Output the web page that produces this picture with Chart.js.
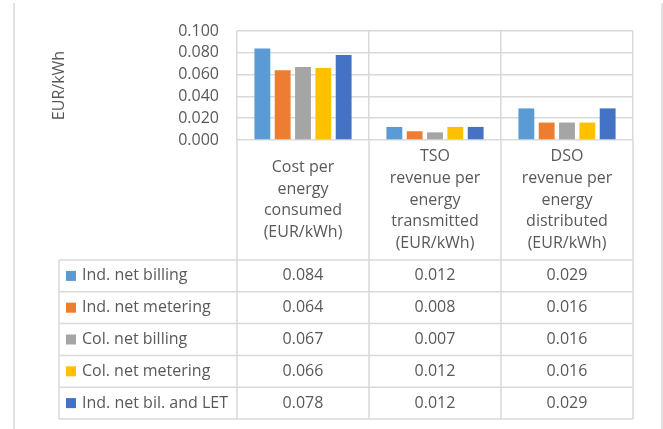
<!DOCTYPE html>
<html><head><meta charset="utf-8">
<script src="https://cdn.jsdelivr.net/npm/chart.js@4.4.1/dist/chart.umd.min.js"></script>
<style>html,body{margin:0;padding:0;background:#fff;}#wrap{position:relative;width:663px;height:429px;}</style>
</head><body><div id="wrap"><canvas id="c" width="663" height="429"></canvas></div>
<script>
// ---- data ----
const categories = [
  ["Cost per", "energy", "consumed", "(EUR/kWh)"],
  ["TSO", "revenue per", "energy", "transmitted", "(EUR/kWh)"],
  ["DSO", "revenue per", "energy", "distributed", "(EUR/kWh)"]
];
const seriesNames = ["Ind. net billing", "Ind. net metering", "Col. net billing", "Col. net metering", "Ind. net bil. and LET"];
const indNetBilling   = [0.084, 0.012, 0.029];
const indNetMetering  = [0.064, 0.008, 0.016];
const colNetBilling   = [0.067, 0.007, 0.016];
const colNetMetering  = [0.066, 0.012, 0.016];
const indNetBilLET    = [0.078, 0.012, 0.029];
const seriesValues = [indNetBilling, indNetMetering, colNetBilling, colNetMetering, indNetBilLET];
const seriesColors = ["#5B9BD5", "#ED7D31", "#A5A5A5", "#FFC000", "#4472C4"];
const yTickValues = [0, 0.02, 0.04, 0.06, 0.08, 0.1];
const yTitle = "EUR/kWh";

// ---- style ----
const FONT = "'Open Sans', sans-serif";
const TXT = "#595959";
const GRID = "#D9D9D9";

const tablePlugin = {
  id: 'dataTable',
  afterDraw(chart) {
    const ctx = chart.ctx;
    const xs = chart.scales.x;
    const area = chart.chartArea;
    const n = categories.length;
    const bounds = [area.left];
    for (let i = 0; i < n - 1; i++) bounds.push((xs.getPixelForValue(i) + xs.getPixelForValue(i + 1)) / 2);
    bounds.push(area.right);
    const tableLeft = 59, headerBottom = 260, rowH = 31.8;
    const tableBottom = headerBottom + rowH * seriesNames.length;
    ctx.save();
    ctx.strokeStyle = GRID;
    ctx.lineWidth = 1.5;
    // frame
    ctx.beginPath();
    ctx.moveTo(14, 3); ctx.lineTo(14, 429);
    ctx.moveTo(662, 3); ctx.lineTo(662, 429);
    // header verticals
    bounds.forEach(b => { ctx.moveTo(b, area.bottom); ctx.lineTo(b, tableBottom); });
    ctx.moveTo(tableLeft, headerBottom); ctx.lineTo(tableLeft, tableBottom);
    for (let r = 0; r <= seriesNames.length; r++) {
      const y = headerBottom + r * rowH;
      ctx.moveTo(tableLeft, y); ctx.lineTo(area.right, y);
    }
    ctx.stroke();
    // header text (vertically centred in header band)
    ctx.fillStyle = TXT;
    ctx.font = "16px " + FONT;
    ctx.textAlign = 'center';
    ctx.textBaseline = 'middle';
    const headerMid = 200, lineH = 21.7;
    categories.forEach((lines, i) => {
      const cx = xs.getPixelForValue(i);
      const y0 = headerMid - (lines.length - 1) * lineH / 2;
      lines.forEach((l, k) => ctx.fillText(l, cx, y0 + k * lineH));
    });
    // rows
    seriesNames.forEach((name, r) => {
      const cy = headerBottom + r * rowH + rowH / 2;
      ctx.fillStyle = seriesColors[r];
      ctx.fillRect(66, cy - 5, 10, 10);
      ctx.fillStyle = TXT;
      ctx.textAlign = 'left';
      ctx.fillText(name, 82, cy);
      ctx.textAlign = 'center';
      seriesValues[r].forEach((v, i) => {
        ctx.fillText(v.toFixed(3), xs.getPixelForValue(i), cy);
      });
    });
    ctx.restore();
  }
};

new Chart(document.getElementById('c'), {
  type: 'bar',
  data: {
    labels: categories.map(c => c.join(' ')),
    datasets: seriesNames.map((name, i) => ({
      label: name,
      data: seriesValues[i],
      backgroundColor: seriesColors[i],
      borderWidth: 0,
      categoryPercentage: 0.77,
      barPercentage: 0.78
    }))
  },
  options: {
    responsive: false,
    animation: false,
    devicePixelRatio: 1,
    layout: { padding: { left: 50, right: 30, top: 31, bottom: 289 } },
    plugins: { legend: { display: false }, tooltip: { enabled: false } },
    scales: {
      x: {
        ticks: { display: false },
        grid: { color: GRID, lineWidth: 1.5, drawTicks: false, offset: true },
        border: { display: false }
      },
      y: {
        min: 0, max: 0.1,
        afterBuildTicks(scale) { scale.ticks = yTickValues.map(v => ({ value: v })); },
        afterFit(scale) { scale.width = 187; },
        ticks: {
          autoSkip: false,
          padding: 18,
          color: TXT,
          font: { family: FONT, size: 16 },
          callback: v => Number(v).toFixed(3)
        },
        grid: { color: GRID, lineWidth: 1.5, drawTicks: false },
        border: { display: false },
        title: { display: true, text: yTitle, color: TXT, font: { family: FONT, size: 16 }, padding: { top: 0, bottom: 0 } }
      }
    }
  },
  plugins: [tablePlugin]
});
</script>
</body></html>
